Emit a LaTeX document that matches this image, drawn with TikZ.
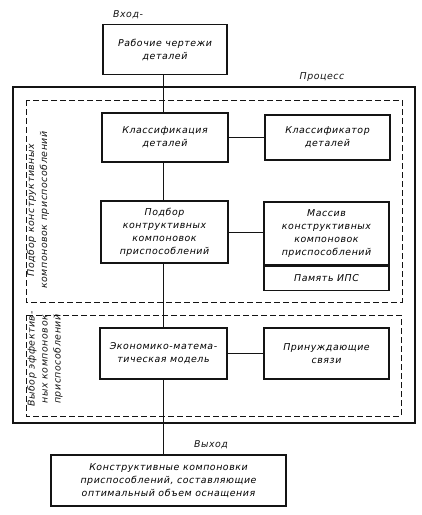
\documentclass[tikz,border=0pt]{standalone}
\usepackage{fontspec}
\setmainfont{DejaVu Sans}[LetterSpace=6]
\usepackage{tikz}
\usetikzlibrary{positioning, calc}
\definecolor{inkdark}{RGB}{20,20,20}
\newcommand{\draftfont}{\fontsize{9.4}{13}\selectfont\itshape}
\tikzset{
  box/.style={rectangle, draw=inkdark, line width=1.5pt, align=center,
    inner sep=1pt, font=\draftfont},
  framebox/.style={draw=inkdark, line width=1.1pt},
  groupbox/.style={draw=inkdark, line width=1pt, dash pattern=on 6pt off 3pt},
  link/.style={draw=inkdark, line width=0.9pt},
  lbl/.style={font=\draftfont, text=inkdark},
  sidelbl/.style={font=\draftfont, text=inkdark, rotate=90, align=center,
    inner sep=0pt}
}

\begin{document}
\begin{tikzpicture}[x=1pt, y=-1pt]
  \useasboundingbox (0,0) rectangle (422,515);

  % Frames
  \draw[framebox] (13,87) rectangle (415,423);
  \draw[groupbox] (26,100) rectangle (402,302);
  \draw[groupbox] (26,315) rectangle (401,416);
  \node[lbl] (proc) at (322,77) {Процесс};

  % Input
  \node[lbl] (inlbl) at (128,15) {Вход-};
  \node[box, minimum width=124pt, minimum height=50pt] (draw) at (165,49.5)
    {Рабочие чертежи\\деталей};

  % Selection of designs
  \node[box, minimum width=126pt, minimum height=49pt] (cls) at (165,137.5)
    {Классификация\\деталей};
  \node[box, minimum width=125pt, minimum height=45pt] (clsr) at (327.5,137.5)
    {Классификатор\\деталей};
  \node[box, minimum width=127pt, minimum height=62pt] (sel) at (164.5,232)
    {Подбор\\контруктивных\\компоновок\\приспособлений};
  \node[box, minimum width=125pt, minimum height=63pt] (arr) at (326.5,233.5)
    {Массив\\конструктивных\\компоновок\\приспособлений};
  \node[box, minimum width=125pt, minimum height=24pt, below=0pt of arr] (mem)
    {Память ИПС};
  \node[sidelbl] (grp1) at (38,210)
    {Подбор конструктивных\\компоновок приспособлений};

  % Choice of effective designs
  \node[box, minimum width=127pt, minimum height=51pt] (eco) at (163.5,353.5)
    {Экономико-матема-\\тическая модель};
  \node[box, minimum width=125pt, minimum height=51pt] (con) at (326.5,353.5)
    {Принуждающие\\связи};
  \node[sidelbl] (grp2) at (45,359)
    {Выбор эффектив-\\ных компоновок\\приспособлений};

  % Output
  \node[lbl] (outlbl) at (211,445) {Выход};
  \node[box, minimum width=235pt, minimum height=51pt] (res) at (168.5,480.5)
    {Конструктивные компоновки\\приспособлений, составляющие\\оптимальный объем оснащения};

  % Connections
  \draw[link] (draw.south -| 163,0) -- (cls.north -| 163,0);
  \draw[link] (cls.south -| 163,0) -- (sel.north -| 163,0);
  \draw[link] (sel.south -| 163,0) -- (eco.north -| 163,0);
  \draw[link] (eco.south -| 163,0) -- (res.north -| 163,0);
  \draw[link] (cls) -- (clsr);
  \draw[link] (sel.east) -- (sel.east -| arr.west);
  \draw[link] (eco) -- (con);
\end{tikzpicture}
\end{document}
